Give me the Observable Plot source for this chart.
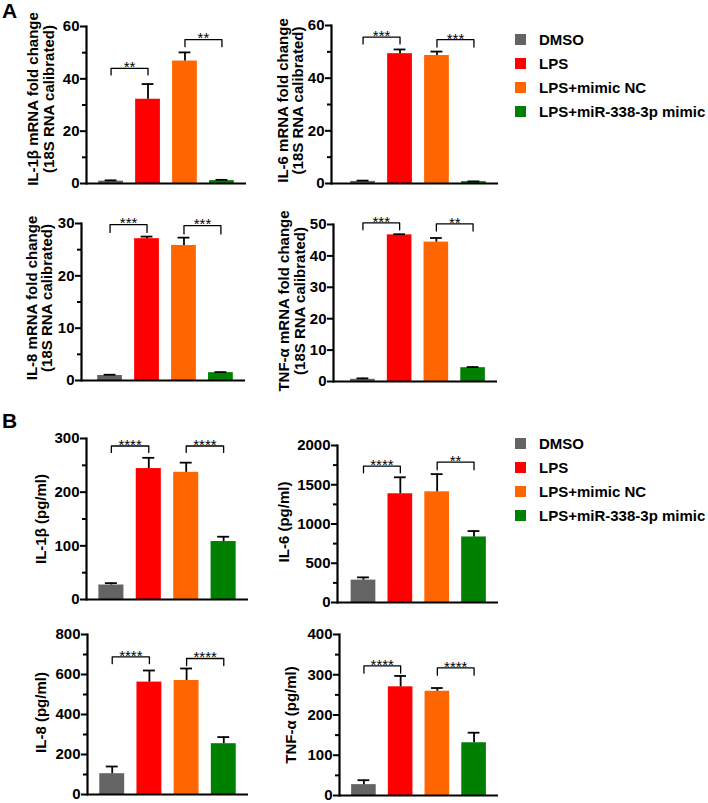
<!DOCTYPE html>
<html>
<head>
<meta charset="utf-8">
<script src="https://cdn.jsdelivr.net/npm/d3@7"></script>
<script src="https://cdn.jsdelivr.net/npm/@observablehq/plot@0.6"></script>
<style>
  html, body { margin: 0; padding: 0; background: #fff; }
  #chart { position: relative; width: 708px; height: 803px; overflow: hidden;
           font-family: "Liberation Sans", Arial, sans-serif; color: #000; }
  .panel { position: absolute; }
  .tag { position: absolute; font-weight: bold; font-size: 21px; line-height: 21px; }
  .legend { position: absolute; left: 515px; }
  .item { position: absolute; left: 0; height: 18px; white-space: nowrap; display: flex; align-items: center;
          font-weight: bold; font-size: 15px; }
  .swatch { width: 11px; height: 11px; margin-right: 13px; flex: none; }
</style>
</head>
<body>
<div id="chart"></div>
<script>
// ---------- data ----------
const groups = ["DMSO", "LPS", "LPS+mimic NC", "LPS+miR-338-3p mimic"];
const groupColors = ["#646464", "#ff0000", "#ff6600", "#008000"];

// A: qPCR fold change (mean, SD)
const il1bMrnaMean = [0.9, 32.2, 46.8, 1.1];
const il1bMrnaSD   = [0.3, 5.8, 3.3, 0.3];
const il6MrnaMean  = [0.8, 49.3, 48.6, 0.7];
const il6MrnaSD    = [0.3, 1.6, 1.5, 0.1];
const il8MrnaMean  = [0.95, 27.1, 25.8, 1.5];
const il8MrnaSD    = [0.15, 0.4, 1.5, 0.1];
const tnfMrnaMean  = [0.7, 46.7, 44.4, 4.4];
const tnfMrnaSD    = [0.3, 0.2, 1.3, 0.2];

// B: ELISA pg/ml (mean, SD)
const il1bProtMean = [27, 244, 237, 108];
const il1bProtSD   = [3.5, 20, 18, 9];
const il6ProtMean  = [285, 1385, 1410, 835];
const il6ProtSD    = [35, 210, 225, 75];
const il8ProtMean  = [104, 562, 570, 254];
const il8ProtSD    = [36, 58, 60, 33];
const tnfProtMean  = [27, 270, 259, 131];
const tnfProtSD    = [11, 27, 8, 25];

// significance brackets: group indices, bracket height, foot height, label
const il1bMrnaSig = [{from: 0, to: 1, y: 44, foot: 41.5, label: "**"}, {from: 2, to: 3, y: 55, foot: 52.3, label: "**"}];
const il6MrnaSig  = [{from: 0, to: 1, y: 55.6, foot: 53, label: "***"}, {from: 2, to: 3, y: 54.6, foot: 51.8, label: "***"}];
const il8MrnaSig  = [{from: 0, to: 1, y: 29.8, foot: 28.3, label: "***"}, {from: 2, to: 3, y: 29.6, foot: 28.0, label: "***"}];
const tnfMrnaSig  = [{from: 0, to: 1, y: 50.5, foot: 48.3, label: "***"}, {from: 2, to: 3, y: 50.2, foot: 47.9, label: "**"}];
const il1bProtSig = [{from: 0, to: 1, y: 286, foot: 274, label: "****"}, {from: 2, to: 3, y: 286, foot: 274, label: "****"}];
const il6ProtSig  = [{from: 0, to: 1, y: 1737, foot: 1652, label: "****"}, {from: 2, to: 3, y: 1787, foot: 1691, label: "**"}];
const il8ProtSig  = [{from: 0, to: 1, y: 688, foot: 654, label: "****"}, {from: 2, to: 3, y: 680, foot: 645, label: "****"}];
const tnfProtSig  = [{from: 0, to: 1, y: 322, foot: 304, label: "****"}, {from: 2, to: 3, y: 317, foot: 299, label: "****"}];

// axis ticks
const ticks60 = [0, 20, 40, 60],        minor60 = [10, 30, 50];
const ticks30 = [0, 10, 20, 30],        minor30 = [5, 15, 25];
const ticks50 = [0, 10, 20, 30, 40, 50], minor50 = [];
const ticks300 = [0, 100, 200, 300],    minor300 = [50, 150, 250];
const ticks2000 = [0, 500, 1000, 1500, 2000], minor2000 = [250, 750, 1250, 1750];
const ticks800 = [0, 200, 400, 600, 800], minor800 = [100, 300, 500, 700];
const ticks400 = [0, 100, 200, 300, 400], minor400 = [50, 150, 250, 350];

const yTitles = [
  "IL-1β mRNA fold change\n(18S RNA calibrated)",
  "IL-6 mRNA fold change\n(18S RNA calibrated)",
  "IL-8 mRNA fold change\n(18S RNA calibrated)",
  "TNF-α mRNA fold change\n(18S RNA calibrated)",
  "IL-1β (pg/ml)", "IL-6 (pg/ml)", "IL-8 (pg/ml)", "TNF-α (pg/ml)"
];

// ---------- layout ----------
const panels = [
  {mean: il1bMrnaMean, sd: il1bMrnaSD, sig: il1bMrnaSig, ticks: ticks60, minor: minor60, max: 60, title: yTitles[0],
   left: 0, top: 0, width: 255, height: 200, mL: 86, mR: 9, mT: 26, mB: 17, inset: 0, titleX: 40.5, titleDy: -6},
  {mean: il6MrnaMean, sd: il6MrnaSD, sig: il6MrnaSig, ticks: ticks60, minor: minor60, max: 60, title: yTitles[1],
   left: 250, top: 0, width: 255, height: 200, mL: 81, mR: 7, mT: 25, mB: 17, inset: 7, titleX: 40, titleDy: -4},
  {mean: il8MrnaMean, sd: il8MrnaSD, sig: il8MrnaSig, ticks: ticks30, minor: minor30, max: 30, title: yTitles[2],
   left: 0, top: 200, width: 255, height: 200, mL: 81, mR: 10, mT: 23, mB: 20, inset: 4, titleX: 39, titleDy: -4},
  {mean: tnfMrnaMean, sd: tnfMrnaSD, sig: tnfMrnaSig, ticks: ticks50, minor: minor50, max: 50, title: yTitles[3],
   left: 250, top: 200, width: 255, height: 200, mL: 83, mR: 8, mT: 24, mB: 19, inset: 5, titleX: 41.5, titleDy: -2},
  {mean: il1bProtMean, sd: il1bProtSD, sig: il1bProtSig, ticks: ticks300, minor: minor300, max: 300, title: yTitles[4],
   left: 0, top: 400, width: 255, height: 210, mL: 86, mR: 7, mT: 38, mB: 11, inset: 0, titleX: 40, titleDy: 0},
  {mean: il6ProtMean, sd: il6ProtSD, sig: il6ProtSig, ticks: ticks2000, minor: minor2000, max: 2000, title: yTitles[5],
   left: 250, top: 400, width: 255, height: 210, mL: 87, mR: 7, mT: 45, mB: 8, inset: 1.5, titleX: 33.5, titleDy: -2},
  {mean: il8ProtMean, sd: il8ProtSD, sig: il8ProtSig, ticks: ticks800, minor: minor800, max: 800, title: yTitles[6],
   left: 0, top: 610, width: 255, height: 193, mL: 87, mR: 7, mT: 24, mB: 9, inset: 0, titleX: 40, titleDy: -2},
  {mean: tnfProtMean, sd: tnfProtSD, sig: tnfProtSig, ticks: ticks400, minor: minor400, max: 400, title: yTitles[7],
   left: 250, top: 610, width: 255, height: 193, mL: 89, mR: 7, mT: 24, mB: 8, inset: 0, titleX: 40, titleDy: 0}
];

const FONT = "'Liberation Sans', Arial, Helvetica, sans-serif";
const chart = document.getElementById("chart");

function drawPanel(p) {
  const rows = groups.map((g, i) => ({g, i, mean: p.mean[i], top: p.mean[i] + p.sd[i]}));
  const hw = 0.335, cw = 0.16;
  const pts = p.sig.flatMap((s, k) => [
    {k, x: s.from, y: s.foot}, {k, x: s.from, y: s.y}, {k, x: s.to, y: s.y}, {k, x: s.to, y: s.foot}
  ]);
  const svg = Plot.plot({
    width: p.width, height: p.height,
    marginLeft: p.mL, marginRight: p.mR, marginTop: p.mT, marginBottom: p.mB,
    style: {fontFamily: FONT, color: "#000", background: "transparent", overflow: "visible"},
    x: {type: "linear", domain: [-0.665, 3.665], insetLeft: p.inset, axis: null},
    y: {domain: [0, p.max], axis: null},
    color: {domain: groups, range: groupColors},
    marks: [
      Plot.rect(rows, {x1: d => d.i - hw, x2: d => d.i + hw, y1: 0, y2: "mean", fill: "g"}),
      Plot.ruleX(rows, {x: "i", y1: "mean", y2: "top", stroke: "#000", strokeWidth: 1.8}),
      Plot.ruleY(rows, {y: "top", x1: d => d.i - cw, x2: d => d.i + cw, stroke: "#000", strokeWidth: 1.8}),
      Plot.line(pts, {x: "x", y: "y", z: "k", stroke: "#000", strokeWidth: 1.3}),
      Plot.text(p.sig, {x: d => (d.from + d.to) / 2, y: "y", text: "label", fontSize: 15, dy: -1, fill: "#000"}),
      Plot.axisY({ticks: p.ticks, tickSize: 6, tickPadding: 1, tickFormat: d => String(d), label: null,
                  fontSize: 15, fontWeight: "bold", strokeWidth: 2}),
      Plot.axisY({ticks: p.minor, tickSize: 4, tickFormat: () => "", label: null, strokeWidth: 2}),
      Plot.frame({anchor: "left", strokeWidth: 2.2}),
      Plot.ruleY([0], {strokeWidth: 2.2}),
      Plot.text([p.title], {text: d => d, frameAnchor: "left", rotate: -90, dx: p.titleX - p.mL, dy: p.titleDy,
                            fontSize: 15, fontWeight: "bold", lineHeight: 1.05, textAnchor: "middle"})
    ]
  });
  svg.classList.add("panel");
  svg.style.left = p.left + "px";
  svg.style.top = p.top + "px";
  svg.style.width = p.width + "px";
  svg.style.maxWidth = "none";
  chart.appendChild(svg);
}
panels.forEach(drawPanel);

// panel tags
[["A", 0], ["B", 410]].forEach(([t, y]) => {
  const d = document.createElement("div");
  d.className = "tag"; d.textContent = t;
  d.style.left = "2px"; d.style.top = y + "px";
  chart.appendChild(d);
});

// legends
[39, 443].forEach(y0 => {
  const lg = document.createElement("div");
  lg.className = "legend"; lg.style.top = y0 + "px";
  groups.forEach((g, i) => {
    const it = document.createElement("div");
    it.className = "item"; it.style.top = (i * 24.3 - 9) + "px";
    const sw = document.createElement("span");
    sw.className = "swatch"; sw.style.background = groupColors[i];
    const tx = document.createElement("span"); tx.textContent = g;
    it.appendChild(sw); it.appendChild(tx);
    lg.appendChild(it);
  });
  chart.appendChild(lg);
});
</script>
</body>
</html>
